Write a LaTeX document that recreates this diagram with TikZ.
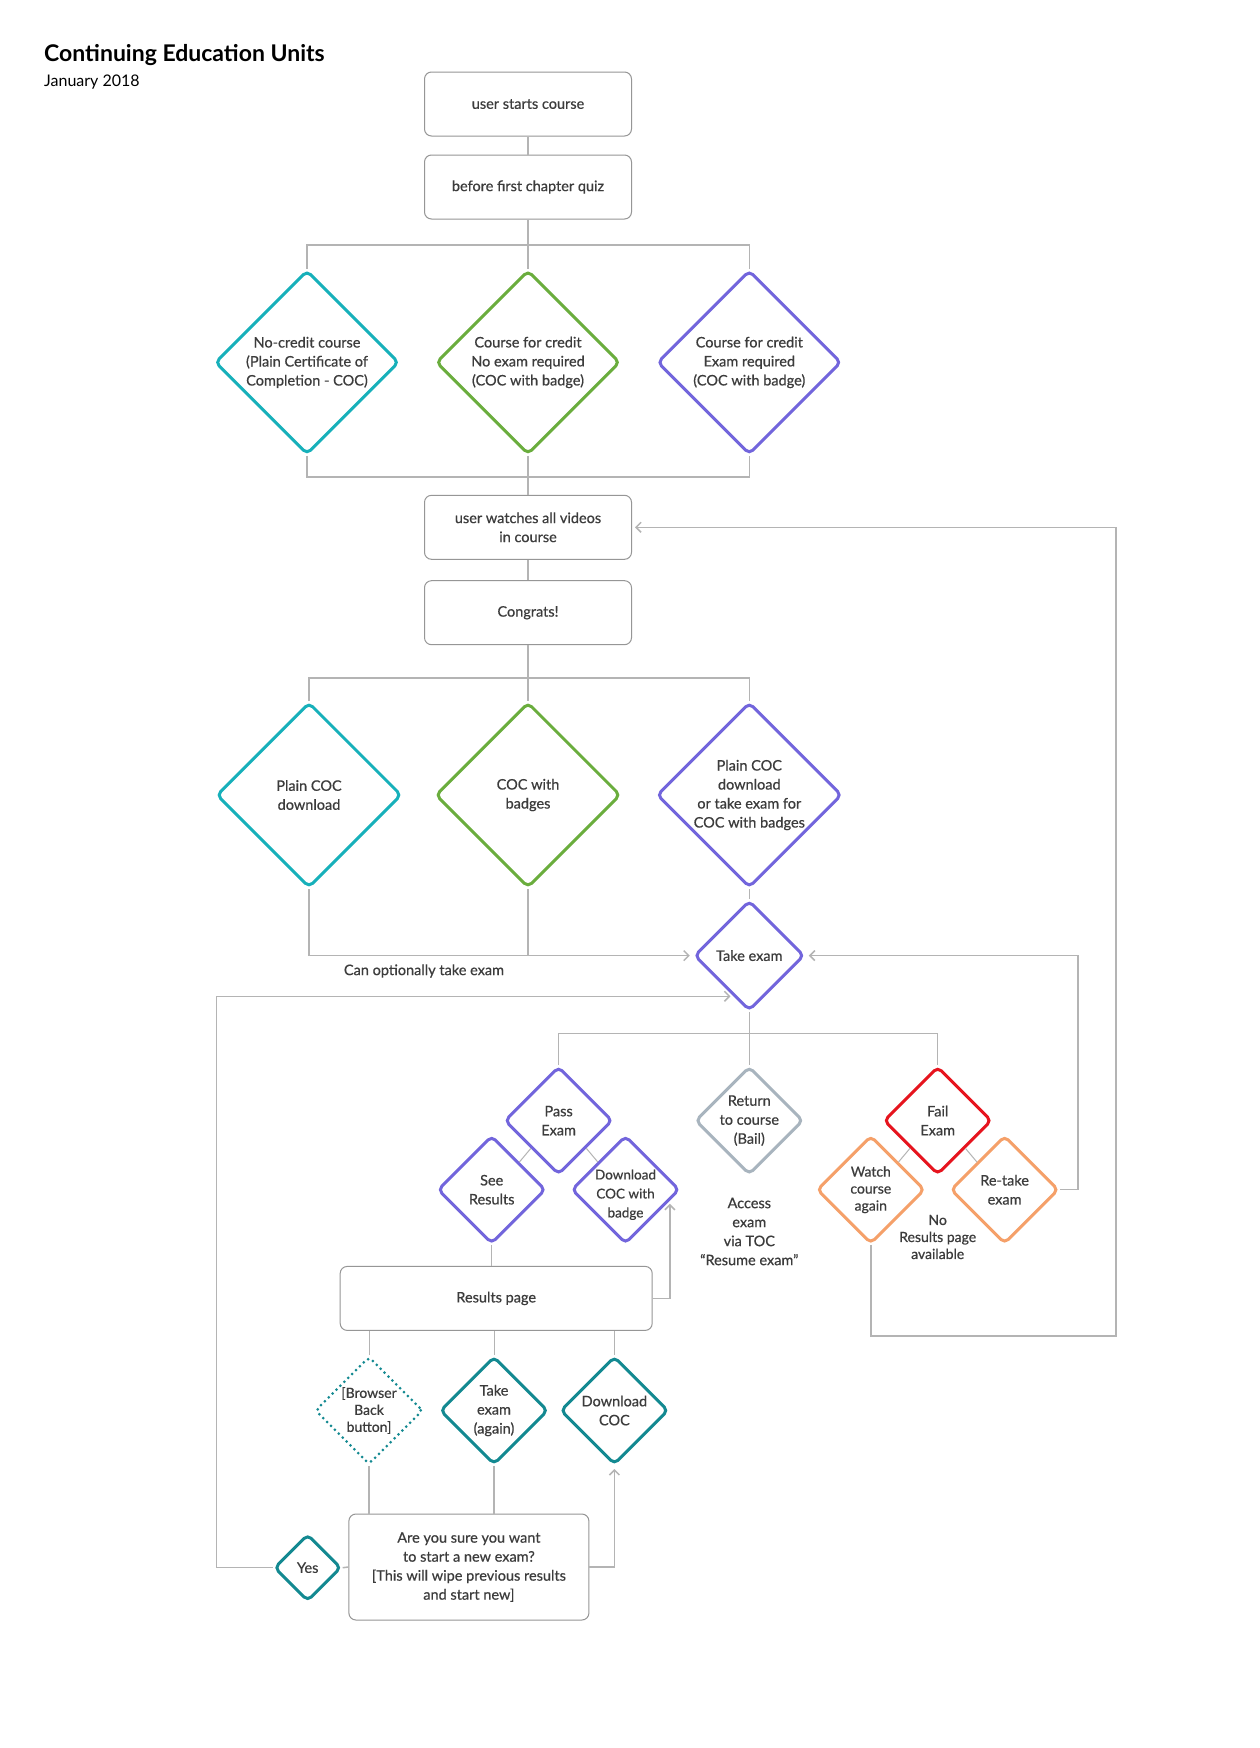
\documentclass[tikz,border=0pt]{standalone}
\usepackage{fontspec}
\setmainfont{Lato}
\newfontfamily\dgface{Lato}[FakeBold=0.6]
\usetikzlibrary{shapes.geometric,arrows.meta,calc}
\definecolor{tealA}{RGB}{23,176,186}
\definecolor{greenA}{RGB}{106,173,61}
\definecolor{purpA}{RGB}{114,101,220}
\definecolor{redA}{RGB}{230,20,30}
\definecolor{greyD}{RGB}{168,180,190}
\definecolor{orangeA}{RGB}{245,160,105}
\definecolor{tealB}{RGB}{19,137,145}
\definecolor{lineG}{RGB}{180,180,180}
\definecolor{boxG}{RGB}{150,150,150}
\definecolor{txtG}{RGB}{60,60,60}
\newcommand\dgfont{\dgface\fontsize{14.5}{19}\selectfont}
\newcommand\dgtight{\dgface\fontsize{14}{17}\selectfont}
\begin{document}
\begin{tikzpicture}[x=1pt,y=-1pt,
  box/.style={draw=boxG,line width=1pt,rounded corners=7pt,minimum width=207pt,minimum height=64pt,align=center,font=\dgfont,text=txtG,inner sep=0pt},
  dtxt/.style={align=center,font=\dgfont,text=txtG,inner sep=0pt},
  dia/.style={shape=diamond,draw=#1,line width=3pt,rounded corners=5pt,inner sep=0pt,aspect=1},
  conn/.style={draw=lineG,line width=1.5pt},
  thinconn/.style={draw=lineG,line width=1pt},
  arr/.style={conn,-{Straight Barb[length=5pt,width=10pt]},shorten >=3pt}]
\useasboundingbox (0,0) rectangle (1260,1748);
\fill[white] (0,0) rectangle (1260,1748);

\node[anchor=west,inner sep=0pt,font=\fontsize{23}{27}\selectfont\bfseries] (title) at (44,55) {Continuing Education Units};
\node[anchor=west,inner sep=0pt,font=\fontsize{16}{19}\selectfont] (date) at (44,82) {January 2018};

% top boxes
\node[box] (b1) at (528,104) {user starts course};
\node[box] (b2) at (528,187) {before first chapter quiz};

% row 1
\node[dia=tealA,minimum size=184pt,label={[dtxt]center:{No-credit course\\(Plain Certificate of\\Completion - COC)}}] (d11) at (307,362.4) {};
\node[dia=greenA,minimum size=184pt,label={[dtxt]center:{Course for credit\\No exam required\\(COC with badge)}}] (d12) at (528,362.4) {};
\node[dia=purpA,minimum size=184pt,label={[dtxt]center:{Course for credit\\Exam required\\(COC with badge)}}] (d13) at (749.3,362.4) {};

\node[box] (b3) at (528,527.3) {user watches all videos\\in course};
\node[box] (b4) at (528,612.7) {Congrats!};

% row 2
\node[dia=tealA,minimum size=185pt,label={[dtxt]center:{Plain COC\\download}}] (d21) at (309,795) {};
\node[dia=greenA,minimum size=185pt,label={[dtxt]center:{COC with\\badges}}] (d22) at (528,795) {};
\node[dia=purpA,minimum size=185pt,label={[dtxt]center:{Plain COC\\download\\or take exam for\\COC with badges}}] (d23) at (749.3,795) {};

% take exam
\node[dia=purpA,minimum size=110pt,label={[dtxt]center:{Take exam}}] (te) at (749.3,955.6) {};
\node[dtxt] (opt) at (424,971) {Can optionally take exam};

% row 3
\node[dia=purpA,minimum size=108pt,label={[dtxt]center:{Pass\\Exam}}] (pass) at (558.6,1120.6) {};
\node[dia=greyD,minimum size=108pt,label={[dtxt]center:{Return\\to course\\(Bail)}}] (ret) at (749.3,1120.6) {};
\node[dia=redA,minimum size=108pt,label={[dtxt]center:{Fail\\Exam}}] (fail) at (937.7,1120.6) {};
\node[dia=purpA,minimum size=108pt,label={[dtxt]center:{See\\Results}}] (see) at (491.7,1189.7) {};
\node[dia=purpA,minimum size=108pt,label={[dtxt,font=\dgface\fontsize{13.5}{19}\selectfont,yshift=-5pt]center:{Download\\COC with\\badge}}] (dlb) at (625.5,1189.7) {};
\node[dia=orangeA,minimum size=108pt,label={[dtxt,font=\dgtight]center:{Watch\\course\\again}}] (watch) at (870.8,1189.7) {};
\node[dia=orangeA,minimum size=108pt,label={[dtxt]center:{Re-take\\exam}}] (rt) at (1004.6,1189.7) {};

\node[dtxt] (acc) at (749.3,1231.5) {Access\\exam\\via TOC\\“Resume exam”};
\node[dtxt,font=\dgtight] (nores) at (937.7,1237) {No\\Results page\\available};

% results page
\node[box,minimum width=312pt,minimum height=64pt] (rp) at (496.2,1298.4) {Results page};

% row 4
\node[dia=tealB,minimum size=108pt,dash pattern=on 0pt off 5.5pt,line cap=round,rounded corners=4pt,label={[dtxt,font=\dgtight]center:{[Browser\\Back\\button]}}] (bb) at (369,1410.5) {};
\node[dia=tealB,minimum size=108pt,label={[dtxt]center:{Take\\exam\\(again)}}] (ta) at (494,1410.5) {};
\node[dia=tealB,minimum size=108pt,label={[dtxt]center:{Download\\COC}}] (dc) at (614.4,1410.5) {};

\node[box,minimum width=240pt,minimum height=106pt] (aq) at (468.9,1567) {Are you sure you want\\to start a new exam?\\{[This will wipe previous results}\\and start new]};
\node[dia=tealB,minimum size=67pt,label={[dtxt]center:{Yes}}] (yes) at (307.7,1567.7) {};

% coordinates
\coordinate (br1) at (528,245);
\coordinate (mg1) at (528,477);
\coordinate (br2) at (528,678);
\coordinate (br3) at (749.3,1033.6);
\coordinate (teL) at ($(te.west)!0.72!(te.south)$);
\coordinate (dlT) at ($(dlb.east)!0.2!(dlb.south)$);
\coordinate (wl) at (1116.1,1335.8);
\coordinate (rtl) at (1078.2,1189.7);
\coordinate (yl) at (216.3,1567.7);

% connectors
\draw[conn] (b1) -- (b2);
\draw[conn] (b2.south) -- (d12.north);
\draw[conn] (d11.north) |- (br1) -| (d13.north);
\draw[conn] (d12.south) -- (b3.north);
\draw[conn] (d11.south) |- (mg1) -| (d13.south);
\draw[conn] (b3) -- (b4);
\draw[conn] (b4.south) -- (d22.north);
\draw[conn] (d21.north) |- (br2) -| (d23.north);
\draw[conn] (d23.south) -- (te.north);
\draw[arr] (d21.south) |- (te.west);
\draw[conn] (d22.south) -- (d22.south |- te.west);
\draw[arr] (rt.east) -- (rtl) |- (te.east);
\draw[arr] (yes.west) -- (yl) |- (teL);
\draw[conn] (te.south) -- (ret.north);
\draw[conn] (pass.north) |- (br3) -| (fail.north);
\draw[thinconn] (pass.south west) -- (see.north east);
\draw[thinconn] (pass.south east) -- (dlb.north west);
\draw[thinconn] (fail.south west) -- (watch.north east);
\draw[thinconn] (fail.south east) -- (rt.north west);
\draw[thinconn] (see.south) -- (see.south |- rp.north);
\draw[arr] (rp.east) -| (dlT);
\draw[arr] (watch.south) |- (wl) |- (b3.east);
\draw[thinconn] (bb.north) -- (bb.north |- rp.south);
\draw[thinconn] (ta.north) -- (ta.north |- rp.south);
\draw[thinconn] (dc.north) -- (dc.north |- rp.south);
\draw[conn] (bb.south) -- (bb.south |- aq.north);
\draw[conn] (ta.south) -- (ta.south |- aq.north);
\draw[arr] (aq.east) -| (dc.south);
\draw[conn] (yes.east) -- (aq.west);
\end{tikzpicture}
\end{document}
